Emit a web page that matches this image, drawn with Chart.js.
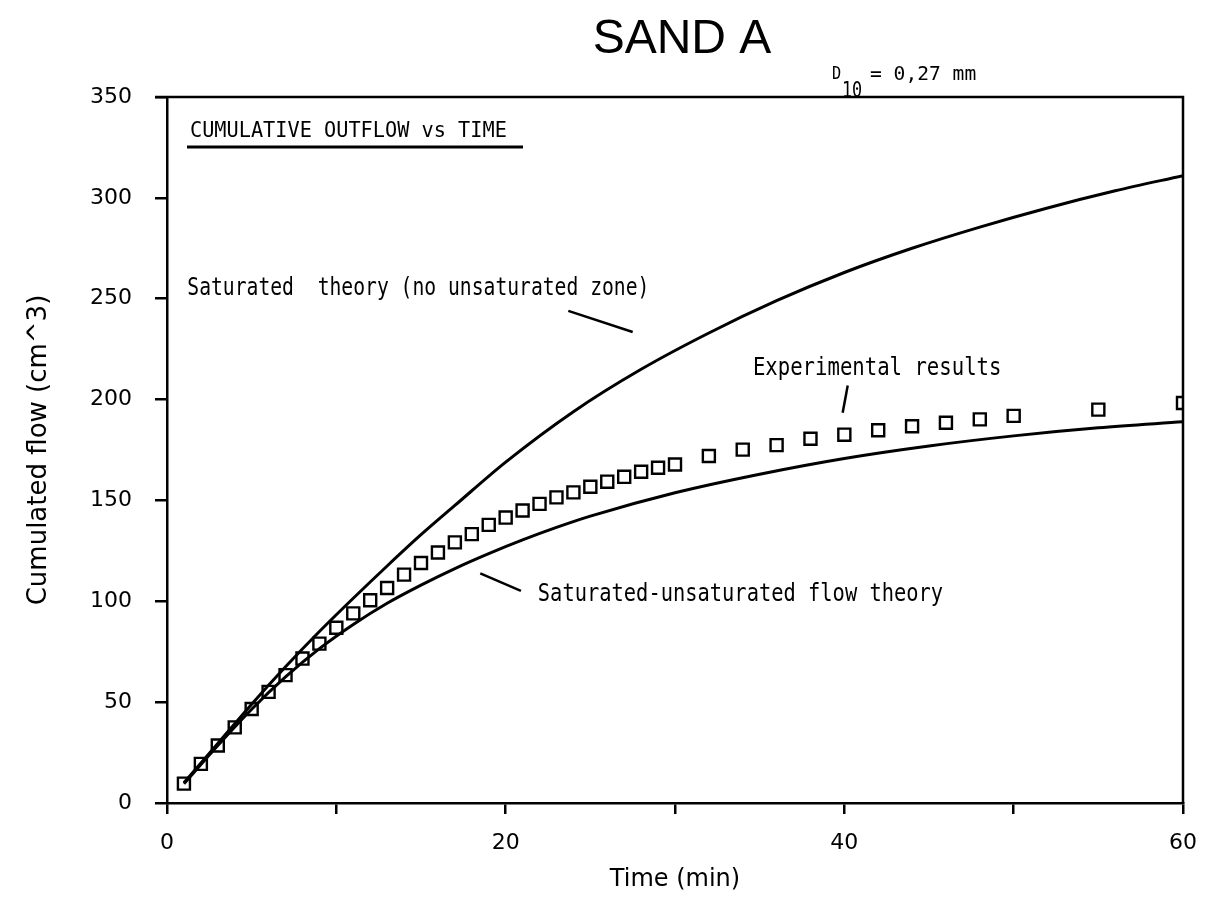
<!DOCTYPE html>
<html>
<head>
<meta charset="utf-8">
<script src="https://cdn.jsdelivr.net/npm/chart.js@4/dist/chart.umd.min.js"></script>
<style>
    html, body { margin: 0; padding: 0; background: #ffffff; }
    #wrap { position: relative; width: 1217px; height: 903px; }
</style>
</head>
<body>
<div id="wrap"><canvas id="graficoSand"></canvas></div>
<script>
// Experimental results (squares)
const expTime = [1, 2, 3, 4, 5, 6, 7, 8, 9, 10, 11, 12, 13, 14, 15, 16, 17, 18, 19, 20,
                 21, 22, 23, 24, 25, 26, 27, 28, 29, 30, 32, 34, 36, 38, 40, 42, 44, 46, 48, 50, 55, 60];
const expFlow = [9.6, 19.4, 28.5, 37.5, 46.6, 55.1, 63.4, 71.6, 79, 86.9, 94, 100.5, 106.6, 113.2, 119, 124.2, 129.2, 133.3, 137.9, 141.5,
                 145, 148.3, 151.5, 154, 156.8, 159.3, 161.7, 164.2, 166.2, 167.8, 172, 175.2, 177.4, 180.6, 182.6, 184.8, 186.8, 188.5, 190.2, 191.9, 195, 198.3];

// Saturated theory (no unsaturated zone)
const satTime = [1, 3, 5, 7, 9, 11, 13, 15, 17, 20, 24, 28, 32, 36, 40, 44, 48, 52, 56, 60];
const satFlow = [10, 29.5, 49, 67.5, 85, 101.5, 117.5, 133, 147.5, 169, 194, 215, 233, 249, 263, 275, 285.5, 295, 303.5, 311];

// Saturated-unsaturated flow theory
const unsatTime = [1, 3, 5, 7, 9, 11, 13, 15, 17, 19, 21, 23, 25, 30, 35, 40, 45, 50, 55, 60];
const unsatFlow = [9.5, 28.5, 46.5, 62.5, 76.5, 88.5, 99, 108, 116.2, 123.6, 130.4, 136.6, 142.2, 153.8, 163, 170.8, 177, 182, 186, 189];

// Axis ticks
const xTicks = [0, 20, 40, 60];
const yTicks = [0, 50, 100, 150, 200, 250, 300, 350];

const toPoints = (xs, ys) => xs.map((x, i) => ({ x: x, y: ys[i] }));

const MONO = '"DejaVu Sans Mono", monospace';
const SANS = '"DejaVu Sans", sans-serif';

// plotter-like narrow text
function textoEstreito(ctx, texto, x, y, tamanho, escala) {
    ctx.save();
    ctx.translate(x, y);
    ctx.scale(escala, 1);
    ctx.font = tamanho + 'px ' + MONO;
    ctx.textAlign = 'left';
    ctx.textBaseline = 'middle';
    ctx.fillText(texto, 0, 0);
    ctx.restore();
}

// Texts and frame drawn on top of the chart
const pluginTextos = {
    id: 'textos',
    afterDatasetsDraw(chart) {
        const ctx = chart.ctx;
        const area = chart.chartArea;
        const sx = chart.scales.x;
        const sy = chart.scales.y;
        ctx.save();
        ctx.strokeStyle = '#000';
        ctx.fillStyle = '#000';

        // top and right border of the box
        ctx.lineWidth = 2.5;
        ctx.beginPath();
        ctx.moveTo(area.left - 12, area.top);
        ctx.lineTo(area.right, area.top);
        ctx.lineTo(area.right, area.bottom);
        ctx.stroke();

        // Title
        ctx.font = '48px "Liberation Sans"';
        ctx.textAlign = 'center';
        ctx.textBaseline = 'middle';
        ctx.fillText('SAND A', 682, 40);

        // D10 = 0,27 mm
        textoEstreito(ctx, 'D', 832, 74, 18, 0.85);
        textoEstreito(ctx, '10', 842, 92, 21, 0.8);
        textoEstreito(ctx, '= 0,27 mm', 870, 75, 20, 0.98);

        // box heading
        textoEstreito(ctx, 'CUMULATIVE OUTFLOW vs TIME', area.left + 23, 131, 22, 0.92);
        ctx.lineWidth = 3;
        ctx.beginPath();
        ctx.moveTo(area.left + 20, 147);
        ctx.lineTo(area.left + 356, 147);
        ctx.stroke();

        // curve labels with leader lines (data units)
        const etiquetas = [
            { texto: 'Saturated  theory (no unsaturated zone)', t: 1.2, v: 255, esc: 0.82, linha: [23.7, 244, 27.5, 233.5] },
            { texto: 'Experimental results', t: 34.6, v: 215.5, esc: 0.86, linha: [40.2, 207, 39.9, 193.5] },
            { texto: 'Saturated-unsaturated flow theory', t: 21.9, v: 103, esc: 0.85, linha: [18.5, 113.8, 20.9, 105.2] }
        ];
        ctx.lineWidth = 2.5;
        etiquetas.forEach(e => {
            textoEstreito(ctx, e.texto, sx.getPixelForValue(e.t), sy.getPixelForValue(e.v), 24, e.esc);
            ctx.beginPath();
            ctx.moveTo(sx.getPixelForValue(e.linha[0]), sy.getPixelForValue(e.linha[1]));
            ctx.lineTo(sx.getPixelForValue(e.linha[2]), sy.getPixelForValue(e.linha[3]));
            ctx.stroke();
        });
        ctx.restore();
    }
};

const linhaCurva = {
    showLine: true,
    borderColor: '#000',
    borderWidth: 3,
    pointRadius: 0,
    cubicInterpolationMode: 'monotone',
    fill: false
};

new Chart(document.getElementById('graficoSand'), {
    type: 'scatter',
    data: {
        datasets: [{
            label: 'Saturated theory (no unsaturated zone)',
            data: toPoints(satTime, satFlow),
            ...linhaCurva
        }, {
            label: 'Saturated-unsaturated flow theory',
            data: toPoints(unsatTime, unsatFlow),
            ...linhaCurva
        }, {
            label: 'Experimental results',
            data: toPoints(expTime, expFlow),
            showLine: false,
            pointStyle: 'rect',
            pointRadius: 8.5,
            pointBorderWidth: 2.4,
            pointBorderColor: '#000',
            pointBackgroundColor: 'rgba(0,0,0,0)'
        }]
    },
    options: {
        responsive: true,
        maintainAspectRatio: false,
        animation: false,
        layout: { padding: { top: 97, right: 34, bottom: 0, left: 0 } },
        plugins: {
            legend: { display: false },
            tooltip: { enabled: false }
        },
        scales: {
            x: {
                type: 'linear',
                min: 0,
                max: 60,
                afterFit: scale => { scale.height = 100; },
                border: { display: true, color: '#000', width: 2.5 },
                grid: { drawOnChartArea: false, drawTicks: true, tickLength: 11, color: '#000', lineWidth: 2.5 },
                ticks: {
                    stepSize: 10,
                    padding: 16,
                    color: '#000',
                    font: { family: SANS, size: 22 },
                    maxRotation: 0,
                    callback: v => xTicks.includes(v) ? v : ''
                },
                title: {
                    display: true,
                    text: 'Time (min)',
                    color: '#000',
                    font: { family: SANS, size: 24 },
                    padding: { top: 9, bottom: 9 }
                }
            },
            y: {
                type: 'linear',
                min: 0,
                max: 350,
                afterFit: scale => { scale.width = 167; },
                border: { display: true, color: '#000', width: 2.5 },
                grid: { drawOnChartArea: false, drawTicks: true, tickLength: 12, color: '#000', lineWidth: 2.5 },
                ticks: {
                    stepSize: 50,
                    padding: 23,
                    color: '#000',
                    font: { family: SANS, size: 22 },
                    callback: v => yTicks.includes(v) ? v : ''
                },
                title: {
                    display: true,
                    text: 'Cumulated flow (cm^3)',
                    color: '#000',
                    font: { family: SANS, size: 26 },
                    padding: { top: 24, bottom: 24 }
                }
            }
        }
    },
    plugins: [pluginTextos]
});
</script>
</body>
</html>
